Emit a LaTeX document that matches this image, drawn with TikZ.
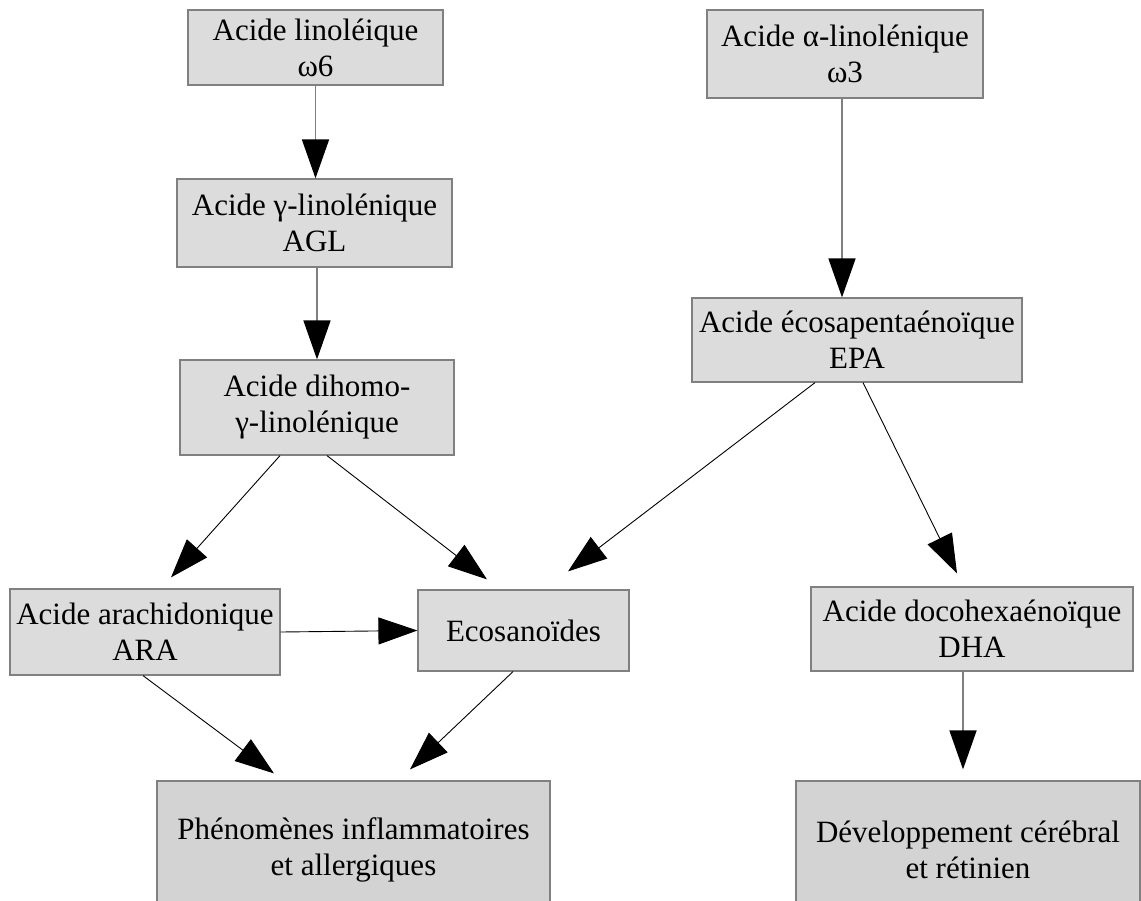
\documentclass[tikz,border=0pt]{standalone}
\usepackage{fontspec}
\setmainfont{Liberation Serif}
\usepackage{tikz}
\usetikzlibrary{arrows.meta}
\definecolor{boxgray}{HTML}{DCDCDC}
\definecolor{endgray}{HTML}{D3D3D3}
\definecolor{linegray}{HTML}{808080}
\tikzset{
	acid/.style   = {draw=linegray, line width=1.2pt, fill=boxgray, rectangle,
		inner sep=0pt, align=center, font=\fontsize{31}{36}\selectfont},
	effect/.style = {acid, fill=endgray}, % bottom boxes
	vline/.style  = {draw=linegray, line width=1.6pt},
	dline/.style  = {draw=black, line width=0.9pt}
}

\begin{document}
\begin{tikzpicture}[x=1pt, y=1pt, >={Triangle[length=39pt, width=27pt, color=black]}]
\useasboundingbox (0,0) rectangle (1141,-900);
\clip (0,0) rectangle (1141,-900);
\draw
% omega 6 chain
node at (315.5,-47.5)[acid, minimum width=255, minimum height=75] (lino) {Acide linoléique\\ω6}
node at (314.5,-223)[acid, minimum width=275, minimum height=88] (agl) {Acide γ-linolénique\\AGL}
node at (317,-407.5)[acid, minimum width=274, minimum height=95] (dihomo) {Acide dihomo-\\γ-linolénique}
node at (145,-632)[acid, minimum width=270, minimum height=86] (ara) {Acide arachidonique\\ARA}
node at (523.5,-630.5)[acid, minimum width=211, minimum height=81] (eco) {Ecosanoïdes}
node at (353.5,-850)[effect, minimum width=393, minimum height=138] (inflam) {Phénomènes inflammatoires\\et allergiques}
% omega 3 chain
node at (845,-54)[acid, minimum width=276, minimum height=88] (alpha) {Acide α-linolénique\\ω3}
node at (857,-340)[acid, minimum width=330, minimum height=84] (epa) {Acide écosapentaénoïque\\EPA}
node at (972,-629)[acid, minimum width=322, minimum height=84] (dha) {Acide docohexaénoïque\\DHA}
node at (968,-850)[effect, minimum width=344, minimum height=138] (dev) {Développement cérébral\\et rétinien};

\draw[vline, ->](lino.south) -- (lino.south |- agl.north);
\draw[vline, ->](dihomo.north |- agl.south) -- (dihomo.north);
\draw[vline, ->]([xshift=-3pt]alpha.south) -- ([xshift=-3pt]alpha.south |- epa.north);
\draw[dline, ->]([xshift=-37pt]dihomo.south) -- ([xshift=26pt, yshift=11pt]ara.north);
\draw[dline, ->]([xshift=10pt]dihomo.south) -- ([xshift=-36.5pt, yshift=10pt]eco.north);
\draw[dline, ->]([xshift=-42pt]epa.south) -- ([xshift=44.5pt, yshift=18pt]eco.north);
\draw[dline, ->]([xshift=6pt]epa.south) -- ([xshift=-15pt, yshift=13pt]dha.north);
\draw[dline, ->](ara.east) -- (eco.west);
\draw[dline, ->]([xshift=-2pt]ara.south) -- ([xshift=-79.5pt, yshift=7pt]inflam.north);
\draw[dline, ->]([xshift=-10.5pt]eco.south) -- ([xshift=56.5pt, yshift=11pt]inflam.north);
\draw[vline, ->]([xshift=-9pt]dha.south) -- ([xshift=-5pt, yshift=11pt]dev.north);
\end{tikzpicture}
\end{document}
